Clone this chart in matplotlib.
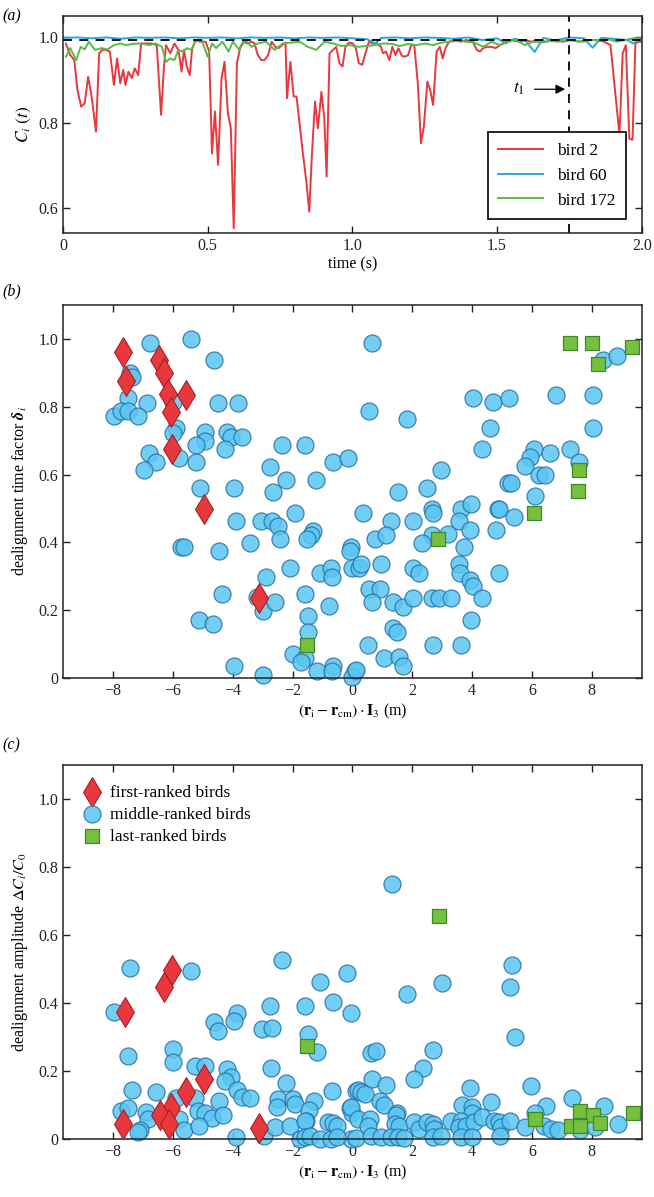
import matplotlib
matplotlib.use("Agg")
import matplotlib.pyplot as plt

plt.rcParams['font.family'] = ['Liberation Serif', 'DejaVu Serif']
plt.rcParams['mathtext.fontset'] = 'stix'
plt.rcParams['axes.unicode_minus'] = True

# ---- panel (a): alignment C_i(t) of three birds ----
t_red = [0.010, 0.025, 0.039, 0.050, 0.063, 0.075, 0.087, 0.099, 0.114, 0.125, 0.136, 0.147, 0.162, 0.176,
         0.187, 0.198, 0.208, 0.216, 0.226, 0.238, 0.248, 0.260, 0.270, 0.284, 0.306, 0.324, 0.339, 0.349,
         0.356, 0.371, 0.385, 0.399, 0.410, 0.418, 0.428, 0.438, 0.446, 0.457, 0.472, 0.493, 0.505, 0.515,
         0.525, 0.536, 0.548, 0.558, 0.570, 0.580, 0.590, 0.601, 0.613, 0.623, 0.637, 0.652, 0.662, 0.673,
         0.685, 0.696, 0.709, 0.721, 0.734, 0.745, 0.757, 0.769, 0.774, 0.786, 0.797, 0.807, 0.818, 0.829,
         0.841, 0.851, 0.861, 0.871, 0.881, 0.893, 0.903, 0.911, 0.921, 0.933, 0.944, 0.955, 0.966, 0.976,
         0.988, 1.002, 1.012, 1.022, 1.034, 1.045, 1.057, 1.070, 1.084, 1.099, 1.106, 1.116, 1.128, 1.138,
         1.149, 1.159, 1.171, 1.181, 1.193, 1.203, 1.214, 1.226, 1.237, 1.247, 1.259, 1.269, 1.279, 1.291,
         1.302, 1.312, 1.322, 1.334, 1.351, 1.373, 1.394, 1.416, 1.430, 1.441, 1.452, 1.466, 1.481, 1.495,
         1.510, 1.531, 1.553, 1.575, 1.596, 1.618, 1.640, 1.668, 1.697, 1.726, 1.755, 1.784, 1.813, 1.841,
         1.870, 1.892, 1.911, 1.923, 1.934, 1.945, 1.957, 1.968, 1.978, 1.990, 2.000]
c_red = [0.985, 0.958, 0.946, 0.876, 0.837, 0.845, 0.907, 0.861, 0.779, 0.962, 0.970, 0.970, 0.966, 0.888,
         0.950, 0.892, 0.923, 0.888, 0.919, 0.904, 0.927, 0.911, 0.985, 0.985, 0.985, 0.981, 0.818, 0.931,
         0.981, 0.962, 0.985, 0.970, 0.919, 0.970, 0.931, 0.911, 0.970, 0.993, 0.989, 0.989, 0.966, 0.728,
         0.826, 0.701, 0.904, 0.942, 0.822, 0.787, 0.553, 0.939, 0.977, 0.989, 0.985, 0.989, 0.985, 0.958,
         0.946, 0.946, 0.958, 0.989, 0.977, 0.974, 0.981, 0.987, 0.857, 0.942, 0.861, 0.861, 0.795, 0.728,
         0.662, 0.592, 0.736, 0.849, 0.787, 0.872, 0.810, 0.674, 0.962, 0.970, 0.977, 0.939, 0.931, 0.977,
         0.987, 0.985, 0.974, 0.939, 0.935, 0.962, 0.989, 0.985, 0.985, 0.977, 0.962, 0.966, 0.946, 0.977,
         0.958, 0.974, 0.956, 0.954, 0.958, 0.981, 0.981, 0.892, 0.752, 0.791, 0.896, 0.876, 0.841, 0.966,
         0.977, 0.950, 0.974, 0.989, 0.993, 0.989, 0.993, 0.989, 0.970, 0.966, 0.974, 0.977, 0.977, 0.974,
         0.981, 0.989, 0.993, 0.989, 0.993, 0.989, 0.993, 0.989, 0.993, 0.989, 0.993, 0.989, 0.993, 0.993,
         0.989, 0.981, 0.853, 0.771, 0.962, 0.981, 0.763, 0.760, 0.985, 0.989, 0.989]

t_blue = [0.00, 0.05, 0.10, 0.15, 0.20, 0.25, 0.30, 0.35, 0.40, 0.45, 0.50, 0.55, 0.60, 0.65, 0.70, 0.75,
          0.80, 0.85, 0.90, 0.95, 1.00, 1.05, 1.08, 1.10, 1.15, 1.20, 1.25, 1.30, 1.35, 1.40, 1.45, 1.50,
          1.53, 1.56, 1.60, 1.63, 1.66, 1.70, 1.75, 1.80, 1.83, 1.86, 1.90, 1.95, 1.97, 2.00]
c_blue = [0.998, 0.999, 0.997, 0.999, 0.996, 0.999, 0.998, 0.999, 0.997, 0.999, 0.998, 0.999, 0.997, 0.999,
          0.998, 0.999, 0.997, 0.999, 0.998, 0.999, 0.997, 0.995, 0.985, 0.998, 0.999, 0.997, 0.999, 0.998,
          0.996, 0.999, 0.993, 0.997, 0.985, 0.996, 0.990, 0.965, 0.998, 0.992, 0.999, 0.997, 0.975, 0.998,
          0.996, 0.993, 0.985, 0.997]

t_green = [0.010, 0.025, 0.046, 0.061, 0.075, 0.089, 0.111, 0.133, 0.154, 0.176, 0.198, 0.219, 0.241, 0.270,
           0.298, 0.320, 0.342, 0.356, 0.371, 0.385, 0.399, 0.414, 0.428, 0.443, 0.457, 0.479, 0.500, 0.515,
           0.529, 0.551, 0.572, 0.587, 0.609, 0.630, 0.652, 0.673, 0.702, 0.731, 0.760, 0.789, 0.818, 0.846,
           0.875, 0.904, 0.933, 0.962, 0.991, 1.019, 1.048, 1.077, 1.106, 1.135, 1.164, 1.193, 1.221, 1.250,
           1.279, 1.308, 1.337, 1.366, 1.394, 1.423, 1.452, 1.481, 1.510, 1.539, 1.567, 1.596, 1.625, 1.654,
           1.683, 1.712, 1.740, 1.769, 1.798, 1.827, 1.856, 1.885, 1.913, 1.942, 1.971, 2.000]
c_green = [0.954, 0.974, 0.946, 0.977, 0.971, 0.989, 0.970, 0.974, 0.971, 0.981, 0.985, 0.981, 0.984, 0.985,
           0.981, 0.985, 0.977, 0.942, 0.950, 0.946, 0.970, 0.966, 0.974, 0.970, 0.989, 0.993, 0.954, 0.985,
           0.974, 0.989, 0.966, 0.989, 0.970, 0.993, 0.977, 0.985, 0.989, 0.970, 0.985, 0.987, 0.989, 0.977,
           0.970, 0.989, 0.985, 0.979, 0.981, 0.977, 0.979, 0.981, 0.985, 0.984, 0.979, 0.984, 0.981, 0.985,
           0.981, 0.987, 0.989, 0.991, 0.989, 0.987, 0.977, 0.989, 0.981, 0.989, 0.993, 0.981, 0.989, 0.987,
           0.991, 0.989, 0.993, 0.991, 0.989, 0.993, 0.991, 0.995, 0.989, 0.993, 0.997, 0.997]

line_labels = ['bird 2', 'bird 60', 'bird 172']
c_threshold = 0.992
t1 = 1.75

# ---- panel (b): dealignment time factor vs position ----
first_x_b = [-7.65, -6.46, -6.29, -7.58, -6.16, -5.57, -6.05, -6.04, -4.97, -3.12]
first_y_b = [0.961, 0.938, 0.900, 0.875, 0.838, 0.836, 0.784, 0.674, 0.499, 0.236]

last_x_b = [7.28, 8.02, 9.33, 8.22, 7.58, 7.54, 6.07, 2.87, -1.52]
last_y_b = [0.988, 0.988, 0.976, 0.925, 0.612, 0.550, 0.487, 0.411, 0.098]

mid_x_b = [-5.39, -6.77, -4.64, -7.43, -7.36, -7.51, -6.87, -4.49, -3.83, -7.97, -7.73, -7.51, -7.15, -5.98,
           -5.91, -5.98, -4.94, -4.94, -5.24, -4.19, -4.06, -3.70, -4.25, -2.35, -1.58, -6.81, -6.55, -5.80,
           -5.24, -6.95, -2.76, -2.23, -1.21, -0.64, -0.15, -5.10, -3.94, -2.66, -1.93, -3.89, -3.05, -2.70,
           -2.50, -2.43, -3.42, -1.32, -1.38, -1.51, -5.74, -5.63, -4.45, -0.06, -0.08, -2.10, -2.89, -1.07,
           -0.72, -0.68, -4.34, -1.58,
           0.66, 8.39, 8.83, 0.57, 1.82, 4.03, 4.69, 5.24, 6.79, 8.04, 4.61, 8.04, 4.34, 6.07, 5.94, 5.76,
           6.62, 7.28, 7.58, 6.24, 6.42, 2.96, 5.19, 5.30, 6.10, 1.52, 2.48, 0.35, 1.29, 2.04, 2.65, 2.70,
           3.62, 3.97, 3.55, 3.92, 4.86, 4.91, 5.41, 4.80, 3.20, 2.65, 0.74, 1.14, 2.32, 3.73, 0.00, 0.22,
           0.28, 0.96, 2.04, 2.21, 3.55, 3.59, 3.94, 4.03, 4.91, 0.57, 0.91,
           -2.98, -2.59, -0.79, -1.47, -1.47, -5.13, -4.67, -1.99, -1.57, -1.71, -3.94, -2.98, -1.18, -0.66,
           -0.68, 0.09, 0.00, -3.20,
           0.66, 1.36, 1.68, 2.04, 2.65, 2.90, 3.31, 4.33, 3.97, 1.35, 1.49, 0.52, 2.70, 3.62, 1.07, 1.55,
           1.69, 0.13]
mid_y_b = [1.000, 0.988, 0.937, 0.899, 0.887, 0.826, 0.812, 0.812, 0.812, 0.774, 0.786, 0.786, 0.774, 0.814,
           0.737, 0.723, 0.725, 0.700, 0.686, 0.725, 0.710, 0.710, 0.676, 0.688, 0.688, 0.663, 0.637, 0.648,
           0.637, 0.612, 0.623, 0.585, 0.585, 0.637, 0.649, 0.561, 0.561, 0.548, 0.487, 0.462, 0.462, 0.462,
           0.448, 0.410, 0.399, 0.433, 0.422, 0.410, 0.386, 0.386, 0.374, 0.386, 0.374, 0.324, 0.299, 0.309,
           0.324, 0.299, 0.248, 0.248,
           0.988, 0.939, 0.951, 0.787, 0.763, 0.825, 0.814, 0.825, 0.836, 0.836, 0.737, 0.737, 0.674, 0.676,
           0.651, 0.625, 0.663, 0.676, 0.637, 0.600, 0.600, 0.612, 0.575, 0.575, 0.537, 0.548, 0.561, 0.487,
           0.462, 0.462, 0.499, 0.487, 0.499, 0.512, 0.462, 0.435, 0.499, 0.499, 0.474, 0.435, 0.425, 0.423,
           0.411, 0.422, 0.399, 0.386, 0.324, 0.324, 0.337, 0.337, 0.324, 0.309, 0.337, 0.309, 0.288, 0.271,
           0.309, 0.263, 0.263,
           0.199, 0.224, 0.211, 0.184, 0.135, 0.171, 0.160, 0.071, 0.059, 0.047, 0.034, 0.010, 0.022, 0.034,
           0.022, 0.022, 0.002, 0.240,
           0.224, 0.224, 0.209, 0.235, 0.235, 0.235, 0.235, 0.235, 0.171, 0.147, 0.135, 0.098, 0.098, 0.098,
           0.059, 0.061, 0.034, 0.024]

# ---- panel (c): dealignment amplitude vs position ----
first_x_c = [-7.59, -6.03, -6.28, -4.96, -5.56, -6.06, -6.43, -6.14, -7.67, -3.11]
first_y_c = [0.373, 0.496, 0.446, 0.176, 0.138, 0.092, 0.069, 0.044, 0.044, 0.031]

last_x_c = [2.90, -1.50, 6.09, 7.61, 8.05, 8.27, 9.38, 7.31, 7.59]
last_y_c = [0.656, 0.274, 0.058, 0.083, 0.071, 0.046, 0.076, 0.038, 0.038]

mid_x_c = [-7.44, -5.40, -2.36, -1.08, -0.17, 1.32, 5.34, 2.98, 5.26, 1.83,
           -7.96, -2.74, -1.58, -0.64, -0.06, -4.62, -4.48, -3.85, -3.94, -3.02, -2.67, -1.47, -1.19, -7.50,
           -6.01, -5.98, -5.27, -4.93, -4.18, -4.04, -4.26, -2.71, -2.21, -0.67, 0.11, -7.37, -6.56, -5.90,
           -5.25, -3.87, -3.70, -3.41, -4.44, -2.47, -2.52, -1.97, -1.91, -1.27, -1.44, -7.72, -7.50, -6.89,
           -6.84, -5.79, -5.15, -4.92, -4.68, -4.31, -0.09, 0.00, -0.81, -0.64, -1.55,
           5.45, 0.61, 0.78, 2.71, 2.35, 2.05, 0.66, 1.13, 0.19, 0.30, 0.41, 3.93, 5.97, 0.91, 1.07, -0.03,
           3.65, 4.01, 3.99, 4.64, 7.33, 6.48, 8.42, 6.11, 8.86, 1.48,
           -7.11, -7.17, -5.64, -5.12, -3.90, -2.96, -2.58, -2.08, -1.58, -1.75, -1.58, -1.42, -1.08, -0.70,
           -0.03,
           0.19, 0.58, 0.52, 0.13, 0.63, 0.96, 1.46, 1.41, 1.57, 1.30, 1.52, 1.74, 2.07, 2.21, 2.51, 2.68,
           2.74, 2.68, 2.96, 3.29, 3.62, 3.57, 3.79, 4.06, 4.34, 3.62, 4.01, 4.73, 4.89, 4.97, 4.93, 5.28,
           5.78, 6.39, 6.65, 6.87, 7.61, 8.11, -0.53, -0.53]
mid_y_c = [0.503, 0.494, 0.527, 0.461, 0.489, 0.749, 0.512, 0.459, 0.448, 0.425,
           0.373, 0.392, 0.392, 0.402, 0.371, 0.343, 0.317, 0.371, 0.346, 0.322, 0.327, 0.310, 0.255, 0.245,
           0.265, 0.225, 0.215, 0.215, 0.206, 0.182, 0.169, 0.210, 0.164, 0.142, 0.142, 0.145, 0.138, 0.120,
           0.120, 0.143, 0.123, 0.120, 0.113, 0.118, 0.093, 0.117, 0.103, 0.113, 0.084, 0.081, 0.090, 0.078,
           0.058, 0.058, 0.081, 0.076, 0.063, 0.071, 0.090, 0.076, 0.051, 0.046, 0.053,
           0.300, 0.253, 0.258, 0.263, 0.208, 0.176, 0.177, 0.159, 0.145, 0.137, 0.132, 0.149, 0.157, 0.113,
           0.100, 0.095, 0.100, 0.095, 0.076, 0.108, 0.120, 0.097, 0.097, 0.076, 0.043, 0.076,
           0.025, 0.020, 0.025, 0.039, 0.005, 0.010, 0.034, 0.039, 0.054, 0.000, 0.005, 0.010, 0.000, 0.000,
           0.000,
           0.059, 0.059, 0.039, 0.002, 0.008, 0.005, 0.069, 0.044, 0.039, 0.005, 0.005, 0.002, 0.051, 0.029,
           0.049, 0.044, 0.029, 0.005, 0.010, 0.054, 0.054, 0.034, 0.039, 0.049, 0.064, 0.005, 0.005, 0.054,
           0.049, 0.034, 0.010, 0.054, 0.034, 0.039, 0.029, 0.025, 0.025, 0.034, 0.039, 0.005]

group_labels = ['first-ranked birds', 'middle-ranked birds', 'last-ranked birds']

RED = '#e8383d'
BLUE = '#2aa7df'
GREEN = '#5cb947'
fs = 11.5


def style_axes(ax):
    for s in ax.spines.values():
        s.set_linewidth(1.1)
        s.set_color('#222222')
    ax.tick_params(direction='in', top=True, right=True, length=5, width=1.0,
                   labelsize=fs, colors='#222222')


fig = plt.figure(figsize=(6.54, 11.97), dpi=100)

# panel a
ax1 = fig.add_axes([0.0963, 0.8053, 0.885, 0.1813])
ax1.plot(t_red, c_red, color=RED, lw=1.4, label=line_labels[0])
ax1.plot(t_blue, c_blue, color=BLUE, lw=1.4, label=line_labels[1])
ax1.plot(t_green, c_green, color=GREEN, lw=1.4, label=line_labels[2])
ax1.axhline(c_threshold, color='k', lw=1.3, ls=(0, (5, 4)))
ax1.axvline(t1, color='k', lw=1.3, ls=(0, (5, 4)))
ax1.annotate('', xy=(t1 - 0.005, 0.878), xytext=(1.62, 0.878),
             arrowprops=dict(arrowstyle='-|>', color='k', lw=0.9, mutation_scale=14))
ax1.text(1.575, 0.878, r'$t_1$', fontsize=fs + 1, ha='center', va='center')
ax1.set_xlim(0, 2.0)
ax1.set_ylim(0.542, 1.049)
ax1.set_xticks([0, 0.5, 1.0, 1.5, 2.0])
ax1.set_xticklabels(['0', '0.5', '1.0', '1.5', '2.0'])
ax1.set_yticks([0.6, 0.8, 1.0])
ax1.set_yticklabels(['0.6', '0.8', '1.0'])
ax1.set_xlabel('time (s)', fontsize=fs, labelpad=2)
ax1.set_ylabel(r'$C_i\ (t)$', fontsize=fs + 1, labelpad=4)
style_axes(ax1)
leg1 = ax1.legend(loc='lower right', bbox_to_anchor=(0.988, 0.025), fontsize=fs + 1,
                  fancybox=False, edgecolor='k', framealpha=1, handlelength=2.6,
                  borderpad=0.6, labelspacing=0.5)
leg1.get_frame().set_linewidth(1.2)
fig.text(0.003, 0.993, '(a)', fontsize=fs, style='italic', va='top')


def scatter_panel(ax, fx, fy, mx, my, lx, ly):
    ax.scatter(mx, my, s=150, marker='o', facecolor='#5ac6f2', edgecolor='#2870a8',
               linewidth=0.9, alpha=0.85, zorder=2, label=group_labels[1], clip_on=False)
    ax.scatter(lx, ly, s=95, marker='s', facecolor='#77bf3f', edgecolor='#3d8a2a',
               linewidth=0.9, zorder=3, label=group_labels[2], clip_on=False)
    ax.scatter(fx, fy, s=230, marker='d', facecolor=RED, edgecolor='#a52025',
               linewidth=0.8, zorder=4, label=group_labels[0], clip_on=False)
    ax.set_xlim(-9.67, 9.67)
    ax.set_ylim(0, 1.1)
    ax.set_xticks([-8, -6, -4, -2, 0, 2, 4, 6, 8])
    ax.set_yticks([0, 0.2, 0.4, 0.6, 0.8, 1.0])
    ax.set_yticklabels(['0', '0.2', '0.4', '0.6', '0.8', '1.0'])
    ax.set_xlabel(r'$(\mathbf{r}_\mathrm{i}-\mathbf{r}_\mathrm{cm})\cdot\mathbf{I}_3$ (m)',
                  fontsize=fs, labelpad=2)
    style_axes(ax)


# panel b
ax2 = fig.add_axes([0.0963, 0.4336, 0.885, 0.3116])
scatter_panel(ax2, first_x_b, first_y_b, mid_x_b, mid_y_b, last_x_b, last_y_b)
ax2.set_ylabel(r'dealignment time factor $\boldsymbol{\delta}_i$', fontsize=fs, labelpad=6)
fig.text(0.003, 0.763, '(b)', fontsize=fs, style='italic', va='top')

# panel c
ax3 = fig.add_axes([0.0963, 0.0485, 0.885, 0.3124])
scatter_panel(ax3, first_x_c, first_y_c, mid_x_c, mid_y_c, last_x_c, last_y_c)
ax3.set_ylabel(r'dealignment amplitude $\Delta C_i/C_0$', fontsize=fs, labelpad=6)
h, l = ax3.get_legend_handles_labels()
order = [2, 0, 1]
ax3.legend([h[i] for i in order], [l[i] for i in order], loc='upper left',
           bbox_to_anchor=(0.0, 0.99), frameon=False, fontsize=fs + 1,
           handletextpad=0.3, labelspacing=0.35, borderpad=0.4, handlelength=1.5)
fig.text(0.003, 0.384, '(c)', fontsize=fs, style='italic', va='top')

fig.savefig('out.png', dpi=100)
